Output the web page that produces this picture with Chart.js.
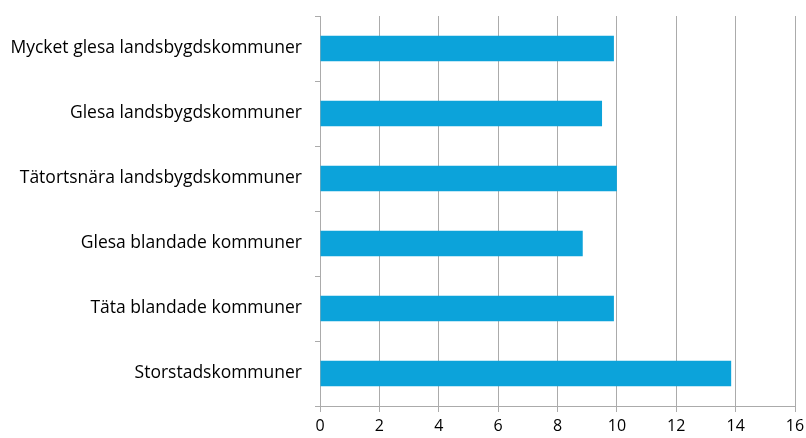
<!DOCTYPE html>
<html>
<head>
<meta charset="utf-8">
<script src="https://cdn.jsdelivr.net/npm/chart.js@4"></script>
<style>
  html, body { margin: 0; padding: 0; background: #fff; }
  #wrap { width: 806px; height: 438px; }
</style>
</head>
<body>
<div id="wrap"><canvas id="barChart"></canvas></div>
<script>
const categories = [
    'Mycket glesa landsbygdskommuner',
    'Glesa landsbygdskommuner',
    'Tätortsnära landsbygdskommuner',
    'Glesa blandade kommuner',
    'Täta blandade kommuner',
    'Storstadskommuner'
];
const values = [9.9, 9.5, 10.0, 8.85, 9.9, 13.85];
const xTicks = [0, 2, 4, 6, 8, 10, 12, 14, 16];

const barColor = '#0ca3da'
const gridColor = '#ababab'

Chart.defaults.font.family = "'Open Sans', sans-serif"
Chart.defaults.font.size = 16
Chart.defaults.color = '#000'

let ctx = document.getElementById('barChart').getContext('2d');

const config = {
    type: 'bar',
    data: {
        labels: categories,
        datasets: [{
            data: values,
            backgroundColor: barColor,
            borderWidth: 0,
            categoryPercentage: 1,
            barPercentage: 0.39
        }]
    },
    options: {
        indexAxis: 'y',
        responsive: true,
        maintainAspectRatio: false,
        animation: false,
        layout: {
            padding: { top: 16, right: 11, bottom: 0, left: 0 }
        },
        scales: {
            x: {
                min: 0,
                max: 16,
                afterBuildTicks: (axis) => {
                    axis.ticks = xTicks.map(v => ({ value: v }));
                },
                afterFit: (axis) => {
                    axis.height = 32;
                    axis.paddingRight = 0;
                    axis.paddingLeft = 0;
                },
                grid: {
                    color: gridColor,
                    tickLength: 6
                },
                border: { color: gridColor },
                ticks: { padding: 5 }
            },
            y: {
                afterFit: (axis) => {
                    axis.width = 320;
                    axis.paddingTop = 0;
                    axis.paddingBottom = 0;
                },
                grid: {
                    offset: true,
                    drawOnChartArea: false,
                    color: gridColor,
                    tickLength: 5
                },
                border: { color: gridColor },
                ticks: { padding: 13, font: { size: 17.5 } }
            }
        },
        plugins: {
            legend: { display: false },
            tooltip: { enabled: false }
        }
    }
};

new Chart(ctx, config);
</script>
</body>
</html>
